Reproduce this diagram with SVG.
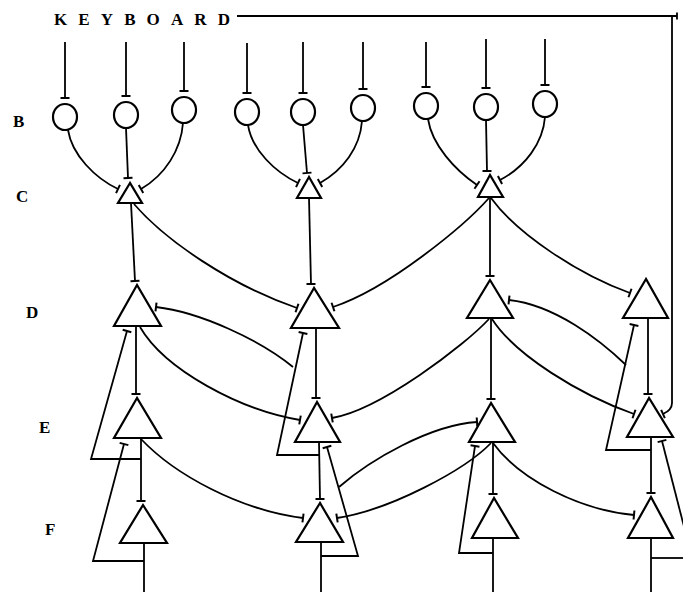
<svg xmlns="http://www.w3.org/2000/svg" width="683" height="592" viewBox="0 0 683 592">
  <style>
    .lbl { font-family: "Liberation Serif", "Times New Roman", serif; font-weight: bold; font-size: 17px; fill: #000; }
    .cell { fill: #fff; stroke: #000; stroke-width: 2.2; stroke-linejoin: miter; }
    .wire { fill: none; stroke: #000; stroke-width: 1.8; }
    .inh { marker-end: url(#bar); }
  </style>
  <defs>
    <!-- inhibitory terminal: short bar across the end of a wire -->
    <marker id="bar" markerUnits="userSpaceOnUse" markerWidth="12" markerHeight="12" viewBox="-6 -6 12 12" refX="0" refY="0" orient="auto">
      <path d="M0,-4.5V4.5" stroke="#000" stroke-width="2" fill="none"/>
    </marker>
  </defs>
  <rect width="683" height="592" fill="#fff"/>

  <!-- row labels -->
  <g id="labels">
    <text class="lbl" x="54" y="25" textLength="176" lengthAdjust="spacing">KEYBOARD</text>
    <text class="lbl" x="13" y="127">B</text>
    <text class="lbl" x="16" y="202">C</text>
    <text class="lbl" x="26" y="318">D</text>
    <text class="lbl" x="39" y="433">E</text>
    <text class="lbl" x="45" y="535">F</text>
  </g>

  <!-- connectors -->
  <g id="connectors" class="wire">
    <!-- keyboard line to the right, down to E4 -->
    <path class="inh" d="M237,16 H672 V403 Q672,410 663,414"/>
    <path d="M672,16 H677 M677,12.5 V19.5"/>

    <!-- keyboard inputs into B cells -->
    <path class="inh" d="M65,42 V98"/>
    <path class="inh" d="M126,42 V96"/>
    <path class="inh" d="M184,42 V91"/>
    <path class="inh" d="M247,43 V93"/>
    <path class="inh" d="M303,42 V93"/>
    <path class="inh" d="M363,42 V89"/>
    <path class="inh" d="M426,42 V87"/>
    <path class="inh" d="M486,39 V88"/>
    <path class="inh" d="M545,39 V85"/>

    <!-- B to C -->
    <path class="inh" d="M68,130 C72,155 95,178 118,189"/>
    <path class="inh" d="M126,128 L128,178"/>
    <path class="inh" d="M183,123 C181,150 165,175 141,189"/>
    <path class="inh" d="M248,125 C252,150 275,172 298,183"/>
    <path class="inh" d="M303,125 L307,173"/>
    <path class="inh" d="M362,121 C360,148 343,170 320,183"/>
    <path class="inh" d="M428,119 C432,145 455,170 477,185"/>
    <path class="inh" d="M486,120 L487,171"/>
    <path class="inh" d="M545,117 C543,143 525,167 500,180"/>

    <!-- C to D -->
    <path class="inh" d="M131,203 L135,281"/>
    <path class="inh" d="M309,198 L311,284"/>
    <path class="inh" d="M490,197 V276"/>
    <path class="inh" d="M134,204 C165,240 230,285 297,308"/>
    <path class="inh" d="M489,198 C465,225 390,288 333,307"/>
    <path class="inh" d="M491,198 C518,235 580,275 630,293"/>

    <!-- D to E -->
    <path class="inh" d="M136,326 V394"/>
    <path class="inh" d="M316,328 V398"/>
    <path class="inh" d="M491,318 V399"/>
    <path class="inh" d="M648,318 V394"/>
    <path class="inh" d="M140,327 C165,370 240,410 300,420"/>
    <path class="inh" d="M489,319 C465,345 380,410 332,418"/>
    <path class="inh" d="M492,319 C515,355 580,395 634,414"/>

    <!-- E to F -->
    <path class="inh" d="M141,438 V501"/>
    <path class="inh" d="M319,442 L320,499"/>
    <path class="inh" d="M493,442 V494"/>
    <path class="inh" d="M651,437 V493"/>
    <path class="inh" d="M141,439 C175,475 240,510 303,518"/>
    <path class="inh" d="M491,443 C465,470 390,510 337,518"/>
    <path class="inh" d="M493,443 C520,480 580,510 634,515"/>

    <!-- feedback loops -->
    <path class="inh" d="M141,459 H91 L127,331"/>
    <path class="inh" d="M144,561 H93 L124,444"/>
    <path class="inh" d="M319,455 H277 L303,333"/>
    <path class="inh" d="M321,556 H358 L327,447"/>
    <path class="inh" d="M493,553 H459 L475,446"/>
    <path class="inh" d="M651,450 H606 L634,325"/>
    <path d="M651,558 H683"/>
    <path class="inh" d="M690,550 L662,441"/>

    <!-- loop branches onto neighbouring cells -->
    <path class="inh" d="M293,367 C260,340 200,312 156,307"/>
    <path class="inh" d="M626,365 C600,340 555,305 509,300"/>
    <path class="inh" d="M339,487 C370,460 430,425 477,422"/>

    <!-- F outputs -->
    <path d="M144,543 V592"/>
    <path d="M321,542 V592"/>
    <path d="M493,538 V592"/>
    <path d="M651,538 V592"/>
  </g>

  <!-- B cells -->
  <g id="B1"><ellipse class="cell" cx="65" cy="117" rx="12" ry="13"/></g>
  <g id="B2"><ellipse class="cell" cx="126" cy="115" rx="12" ry="13"/></g>
  <g id="B3"><ellipse class="cell" cx="184" cy="110" rx="12" ry="13"/></g>
  <g id="B4"><ellipse class="cell" cx="247" cy="112" rx="12" ry="13"/></g>
  <g id="B5"><ellipse class="cell" cx="303" cy="112" rx="12" ry="13"/></g>
  <g id="B6"><ellipse class="cell" cx="363" cy="108" rx="12" ry="13"/></g>
  <g id="B7"><ellipse class="cell" cx="426" cy="106" rx="12" ry="13"/></g>
  <g id="B8"><ellipse class="cell" cx="486" cy="107" rx="12" ry="13"/></g>
  <g id="B9"><ellipse class="cell" cx="545" cy="104" rx="12" ry="13"/></g>

  <!-- C cells -->
  <g id="C1"><polygon class="cell" points="130,183 118,203 142,203"/></g>
  <g id="C2"><polygon class="cell" points="309,177 297,198 321,198"/></g>
  <g id="C3"><polygon class="cell" points="490,175 478,197 503,197"/></g>

  <!-- D cells -->
  <g id="D1"><polygon class="cell" points="137,285 114,326 161,326"/></g>
  <g id="D2"><polygon class="cell" points="314,288 291,328 339,328"/></g>
  <g id="D3"><polygon class="cell" points="490,280 467,318 513,318"/></g>
  <g id="D4"><polygon class="cell" points="646,279 623,318 668,318"/></g>

  <!-- E cells -->
  <g id="E1"><polygon class="cell" points="137,398 114,438 161,438"/></g>
  <g id="E2"><polygon class="cell" points="317,402 295,442 340,442"/></g>
  <g id="E3"><polygon class="cell" points="491,403 469,442 515,442"/></g>
  <g id="E4"><polygon class="cell" points="649,398 627,437 673,437"/></g>

  <!-- F cells -->
  <g id="F1"><polygon class="cell" points="143,505 120,543 167,543"/></g>
  <g id="F2"><polygon class="cell" points="320,503 296,542 343,542"/></g>
  <g id="F3"><polygon class="cell" points="494,498 472,538 518,538"/></g>
  <g id="F4"><polygon class="cell" points="651,497 628,538 673,538"/></g>
</svg>
